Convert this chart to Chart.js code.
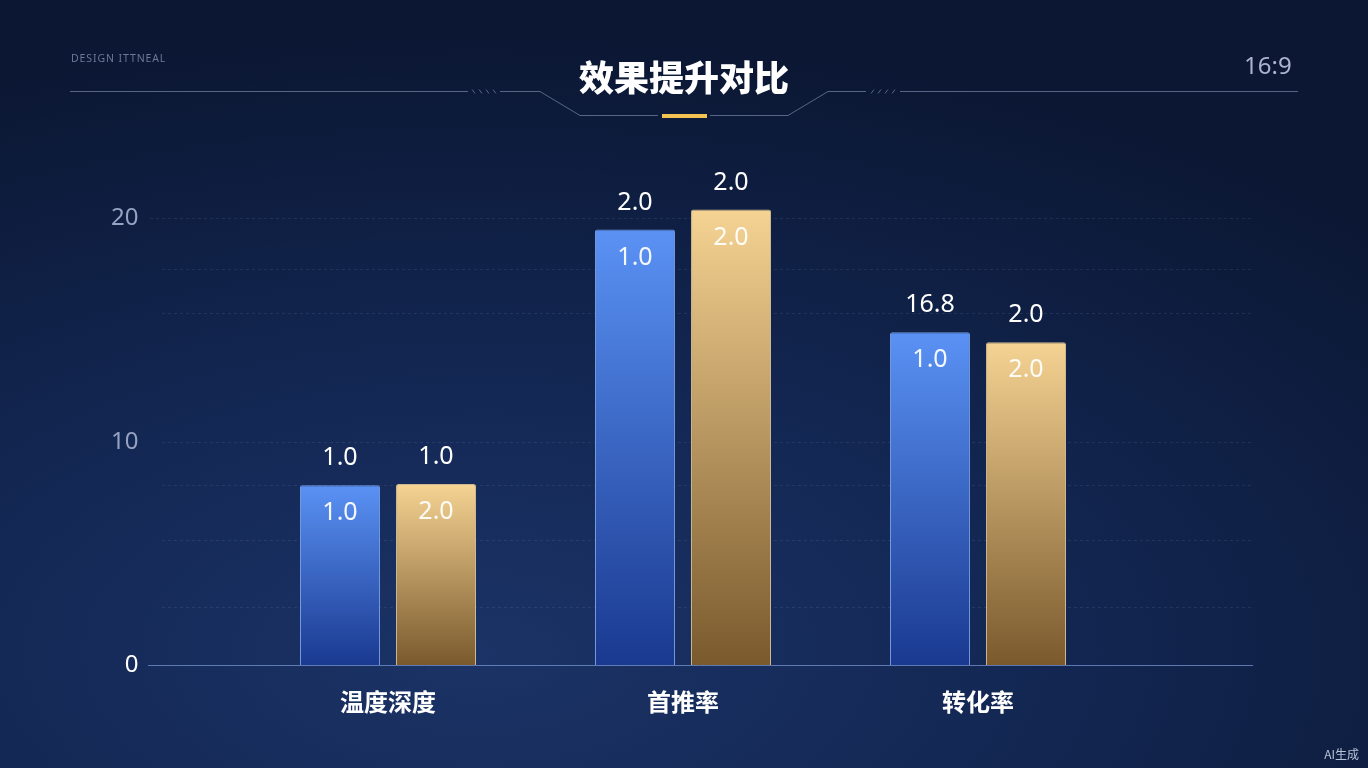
<!DOCTYPE html>
<html lang="zh">
<head>
<meta charset="utf-8">
<title>效果提升对比</title>
<script src="https://cdn.jsdelivr.net/npm/chart.js@4.4.1/dist/chart.umd.min.js"></script>
<style>
  html, body { margin: 0; padding: 0; }
  body {
    width: 1368px; height: 768px; overflow: hidden; position: relative;
    background: radial-gradient(ellipse 90% 80% at 35% 85%, #1b3366 0%, #132753 45%, #0b1733 100%);
    font-family: "Noto Sans", "Noto Sans CJK SC", sans-serif;
  }
  #wrap { position: absolute; left: 0; top: 0; width: 1368px; height: 768px; }
  .brand { position: absolute; left: 71px; top: 51px; font-size: 10.5px; color: #6b7898; letter-spacing: 0.9px; }
  .ratio { position: absolute; left: 1244px; top: 48px; font-size: 24px; color: #aab4cc; }
  .title {
    position: absolute; left: 0; width: 1368px; top: 53px; text-align: center;
    font-family: "Noto Sans CJK SC", sans-serif; font-weight: 900; font-size: 35px; color: #fff;
    line-height: 46px;
  }
  .ai { position: absolute; right: 9px; top: 745px; font-size: 12px; color: #b9c2d6; font-family: "Noto Sans CJK SC", sans-serif; }
  svg.deco { position: absolute; left: 0; top: 0; }
</style>
</head>
<body>
<div id="wrap"><canvas id="chart" width="1368" height="768"></canvas></div>
<svg class="deco" width="1368" height="140">
  <g stroke="rgba(150,165,200,0.55)" stroke-width="1" fill="none">
    <path d="M70 91.5 H468"/>
    <path d="M472 89.5 l3 4 M479 89.5 l3 4 M486 89.5 l3 4 M493 89.5 l3 4"/>
    <path d="M500 91.5 H540 L580 115.5 H658"/>
    <path d="M710 115.5 H788 L828 91.5 H866"/>
    <path d="M871 93.5 l3 -4 M878 93.5 l3 -4 M885 93.5 l3 -4 M892 93.5 l3 -4"/>
    <path d="M900 91.5 H1298"/>
  </g>
  <rect x="662" y="114" width="45" height="4" fill="#f2c252"/>
</svg>
<div class="brand">DESIGN ITTNEAL</div>
<div class="title">效果提升对比</div>
<div class="ratio">16:9</div>
<div class="ai">AI生成</div>
<script>
// 分类与数值
const categories = ['温度深度', '首推率', '转化率'];
const blueValues = [8.05, 19.5, 14.9];
const goldValues = [8.1, 20.4, 14.45];
// 柱子上方 / 内部的标注文字
const blueTopLabels = ['1.0', '2.0', '16.8'];
const goldTopLabels = ['1.0', '2.0', '2.0'];
const blueInnerLabels = ['1.0', '1.0', '1.0'];
const goldInnerLabels = ['2.0', '2.0', '2.0'];
// 纵轴网格与刻度
const gridValues = [2.6, 5.6, 8.05, 10, 15.75, 17.75, 20];
const tickLabels = [0, 10, 20];

const topLabels = [blueTopLabels, goldTopLabels];
const innerLabels = [blueInnerLabels, goldInnerLabels];

// 网格线和底线比绘图区更宽
const GRID_LEFT = 148, GRID_RIGHT = 1253;

function barGradient(ctx, top, bottom) {
  const chart = ctx.chart;
  if (!chart.chartArea || ctx.raw == null) return top;
  const ys = chart.scales.y;
  const y0 = ys.getPixelForValue(ctx.raw);
  const g = chart.ctx.createLinearGradient(0, y0, 0, ys.getPixelForValue(0));
  g.addColorStop(0, top);
  g.addColorStop(1, bottom);
  return g;
}

const gridPlugin = {
  id: 'wideGrid',
  beforeDatasetsDraw(chart) {
    const c = chart.ctx;
    const ys = chart.scales.y;
    c.save();
    c.lineWidth = 1;
    c.strokeStyle = 'rgba(150,170,220,0.13)';
    c.setLineDash([3, 3]);
    gridValues.forEach(v => {
      const y = Math.round(ys.getPixelForValue(v)) + 0.5;
      c.beginPath();
      c.moveTo(v === 20 ? GRID_LEFT + 2 : GRID_LEFT + 14, y);
      c.lineTo(GRID_RIGHT, y);
      c.stroke();
    });
    c.restore();
  },
  afterDatasetsDraw(chart) {
    const c = chart.ctx;
    const y = Math.round(chart.scales.y.getPixelForValue(0)) + 0.5;
    c.save();
    c.strokeStyle = 'rgba(120,150,210,0.75)';
    c.lineWidth = 1;
    c.beginPath();
    c.moveTo(GRID_LEFT, y);
    c.lineTo(GRID_RIGHT, y);
    c.stroke();
    c.restore();
  }
};

const labelPlugin = {
  id: 'barLabels',
  afterDatasetsDraw(chart) {
    const c = chart.ctx;
    c.save();
    c.textAlign = 'center';
    c.textBaseline = 'middle';
    c.font = '25px "Noto Sans", sans-serif';
    chart.data.datasets.forEach((ds, d) => {
      chart.getDatasetMeta(d).data.forEach((bar, i) => {
        c.fillStyle = '#ffffff';
        c.fillText(topLabels[d][i], bar.x, bar.y - 27);
        c.fillStyle = 'rgba(255,255,255,0.93)';
        c.fillText(innerLabels[d][i], bar.x, bar.y + 28);
      });
    });
    c.restore();
  }
};

new Chart(document.getElementById('chart'), {
  type: 'bar',
  data: {
    labels: categories,
    datasets: [{
      data: blueValues,
      backgroundColor: ctx => barGradient(ctx, '#5a92f4', '#1a3990'),
      borderColor: 'rgba(140,180,255,0.8)',
      borderWidth: 1,
      borderSkipped: 'bottom',
      borderRadius: { topLeft: 2, topRight: 2 }
    }, {
      data: goldValues,
      backgroundColor: ctx => barGradient(ctx, '#f5d393', '#7a592d'),
      borderColor: 'rgba(250,220,160,0.8)',
      borderWidth: 1,
      borderSkipped: 'bottom',
      borderRadius: { topLeft: 2, topRight: 2 }
    }]
  },
  options: {
    responsive: false,
    animation: false,
    categoryPercentage: 0.651,
    barPercentage: 0.833,
    layout: { padding: { top: 129, right: 242.5, bottom: 0, left: 0 } },
    plugins: { legend: { display: false }, tooltip: { enabled: false } },
    scales: {
      x: {
        afterFit: s => { s.height = 103; },
        grid: { display: false },
        border: { display: false },
        ticks: {
          padding: 14,
          color: '#ffffff',
          font: { family: '"Noto Sans CJK SC", sans-serif', size: 24, weight: 'bold' }
        }
      },
      y: {
        min: 0,
        max: 24,
        afterBuildTicks: s => { s.ticks = tickLabels.map(v => ({ value: v })); },
        afterFit: s => { s.width = 240.5; s.paddingTop = 0; s.paddingBottom = 0; },
        border: { display: false },
        grid: { display: false },
        ticks: {
          padding: 94,
          color: ctx => ctx.tick.value === 0 ? '#ffffff' : '#95a2c0',
          font: { family: '"Noto Sans", sans-serif', size: 24 }
        }
      }
    }
  },
  plugins: [gridPlugin, labelPlugin]
});
</script>
</body>
</html>
